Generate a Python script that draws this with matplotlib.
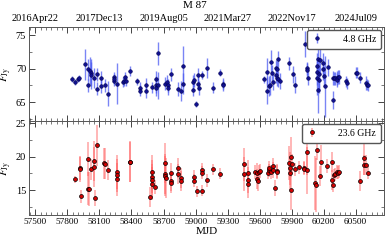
import numpy as np
import matplotlib
matplotlib.use("Agg")
import matplotlib.pyplot as plt
from matplotlib.ticker import MultipleLocator

# 4.8 GHz light curve
mjd_c = [57846, 57874, 57899, 57905, 57962, 57996, 57996, 58015, 58021, 58024,
         58052, 58080, 58080, 58114, 58114, 58149, 58180, 58233, 58233, 58239,
         58264, 58320, 58326, 58342, 58351, 58382, 58448, 58476, 58476, 58538,
         58538, 58595, 58626, 58626, 58626, 58651, 58651, 58710, 58732, 58738,
         58738, 58769, 58832, 58863, 58884, 58884, 58978, 58978, 58981, 59000,
         59022, 59022, 59031, 59065, 59109, 59159, 59231, 59255, 59255,
         59642, 59670, 59670, 59686, 59698, 59705, 59717, 59729, 59754, 59754,
         59764, 59764, 59773, 59776, 59789, 59876, 59910, 59932, 60029, 60044,
         60044, 60051, 60135, 60135, 60141, 60144, 60150, 60153, 60160, 60163,
         60191, 60197, 60207, 60216, 60238, 60288, 60291, 60300, 60309, 60322,
         60325, 60331, 60347, 60409, 60415, 60503, 60515, 60540, 60593, 60609,
         60618]
flux_c = [68.43, 68.03, 68.43, 68.63, 70.62, 67.49, 69.87, 69.67, 69.38, 69.03,
          68.63, 67.04, 69.13, 67.39, 68.63, 67.49, 66.29, 68.73, 68.13, 68.43,
          67.78, 68.03, 68.18, 68.78, 68.13, 69.62, 68.13, 67.14, 66.69, 66.69,
          67.63, 67.19, 68.43, 67.63, 67.14, 72.31, 67.49, 67.78, 68.03, 67.49,
          67.14, 69.13, 66.94, 66.69, 70.32, 67.78, 68.03, 66.89, 68.28, 64.75,
          69.03, 67.78, 67.14, 69.03, 70.12, 67.14, 69.38, 67.78, 67.49,
          68.43, 66.69, 69.52, 67.39, 67.54, 70.92, 69.38, 68.03, 69.03, 70.12,
          68.63, 69.87, 71.42, 68.43, 68.13, 70.77, 69.13, 67.63, 73.70, 70.02,
          69.77, 68.63, 69.52, 68.63, 70.37, 71.37, 66.89, 69.13, 68.38, 71.22,
          69.87, 70.77, 68.88, 67.34, 70.17, 65.30, 68.63, 68.53, 68.53, 68.63,
          68.28, 68.73, 68.78, 68.13, 67.83, 69.38, 69.38, 68.63, 67.83, 67.63,
          67.49]
err_c = [0.4, 0.4, 0.4, 0.4, 2.3, 1.0, 1.5, 2.0, 2.0, 2.0,
         1.5, 1.0, 1.0, 1.0, 1.0, 1.0, 1.8, 0.7, 0.7, 0.7,
         3.0, 0.7, 0.7, 0.7, 0.7, 0.7, 0.5, 0.8, 0.8, 1.0,
         1.0, 0.8, 1.2, 1.2, 1.2, 1.7, 2.0, 1.0, 1.0, 1.0,
         1.0, 1.0, 1.0, 1.5, 3.0, 1.5, 1.0, 1.0, 1.0, 0.5,
         1.0, 1.0, 1.0, 0.6, 1.5, 0.8, 0.5, 0.8, 0.8,
         0.5, 2.0, 2.0, 1.5, 1.5, 1.8, 1.2, 1.2, 1.2, 1.2,
         1.2, 1.2, 1.2, 1.2, 1.2, 1.0, 1.2, 1.2, 1.9, 1.0,
         1.0, 1.0, 2.0, 2.5, 2.0, 2.0, 3.5, 2.5, 2.0, 2.0,
         1.5, 1.5, 1.5, 4.5, 1.2, 1.3, 1.0, 1.0, 1.0, 1.0,
         1.0, 1.0, 1.0, 0.8, 0.8, 0.8, 0.8, 0.8, 1.0, 0.8,
         0.8]

# 23.6 GHz light curve
mjd_k = [57874, 57921, 57921, 57930, 57996, 57996, 58002, 58021, 58049, 58049,
         58055, 58077, 58145, 58152, 58180, 58267, 58267, 58267, 58386, 58386,
         58576, 58594, 58594, 58594, 58594, 58616, 58713, 58713, 58713, 58719,
         58769, 58769, 58769, 58835, 58835, 58863, 58863, 58981, 58981, 59012,
         59062, 59062, 59065, 59109, 59159, 59231, 59458, 59458, 59489, 59489,
         59489, 59555, 59580, 59580, 59586, 59598, 59605, 59683, 59689, 59689,
         59705, 59729, 59729, 59745, 59767, 59767, 59879, 59885, 59885, 59898,
         59898, 59907, 59935, 59966, 60013, 60019, 60041, 60041, 60119, 60125,
         60138, 60169, 60172, 60235, 60275, 60275, 60291, 60300, 60309, 60322,
         60331, 60344, 60540, 60574, 60577, 60593, 60612]
flux_k = [16.62, 18.34, 18.09, 14.07, 19.66, 15.25, 15.15, 18.09, 19.32, 18.43,
          13.83, 21.67, 19.02, 18.97, 17.99, 17.75, 17.21, 16.62, 19.17, 19.27,
          13.97, 17.70, 17.01, 16.47, 15.98, 15.49, 19.02, 17.45, 17.11, 16.77,
          17.60, 16.33, 16.03, 18.34, 17.36, 16.82, 16.38, 17.01, 16.42, 14.81,
          17.99, 17.60, 14.91, 16.47, 18.09, 17.45, 18.83, 17.45, 17.50, 16.52,
          15.88, 17.70, 17.60, 16.62, 16.38, 17.70, 17.85, 17.60, 17.94, 18.34,
          17.70, 18.58, 17.99, 15.39, 17.85, 17.70, 19.02, 18.24, 17.60, 19.95,
          15.10, 18.87, 18.09, 18.39, 18.34, 18.19, 20.74, 17.99, 16.03, 15.79,
          21.03, 17.11, 19.22, 18.58, 19.17, 16.52, 15.74, 17.21, 17.36, 17.70,
          17.60, 17.75, 16.38, 19.76, 18.73, 18.73, 17.60]
err_k = [0.5, 1.8, 1.8, 1.0, 2.5, 2.5, 2.5, 1.5, 3.0, 3.0,
         1.2, 3.0, 2.3, 2.3, 1.5, 2.5, 2.5, 2.5, 3.0, 3.0,
         1.5, 2.5, 2.5, 2.5, 2.5, 1.0, 3.0, 3.0, 3.0, 3.0,
         1.5, 1.5, 1.5, 1.5, 1.5, 1.5, 1.5, 1.0, 1.0, 0.8,
         1.0, 1.0, 0.8, 1.0, 0.8, 0.8, 2.5, 2.5, 2.0, 2.0,
         2.0, 1.0, 1.5, 1.5, 1.5, 1.0, 1.0, 1.0, 1.0, 1.0,
         1.0, 1.2, 1.2, 1.2, 1.0, 1.0, 2.5, 2.5, 2.5, 3.0,
         3.0, 1.5, 1.0, 1.0, 1.0, 1.0, 3.5, 3.5, 4.0, 4.0,
         1.5, 1.5, 2.5, 1.0, 1.5, 1.5, 1.0, 1.0, 1.0, 1.0,
         1.0, 1.0, 1.5, 2.5, 1.5, 1.5, 1.0]

date_ticks = [57500, 58100, 58700, 59300, 59900, 60500]
date_labels = ["2016Apr22", "2017Dec13", "2019Aug05", "2021Mar27",
               "2022Nov17", "2024Jul09"]

plt.rcParams["font.family"] = ["Liberation Serif", "DejaVu Serif"]
plt.rcParams["mathtext.fontset"] = "stix"

fig = plt.figure(figsize=(3.89, 2.43), dpi=100)
ax1 = fig.add_axes([0.0746, 0.502, 0.9124, 0.387])
ax2 = fig.add_axes([0.0746, 0.115, 0.9124, 0.387], sharex=ax1)

ax1.errorbar(mjd_c, flux_c, yerr=err_c, fmt="o", ms=2.6, mfc="#101090",
             mec="#000050", mew=0.4, ecolor=(0.30, 0.36, 0.95, 0.75),
             elinewidth=1.0, label="4.8 GHz")
ax2.errorbar(mjd_k, flux_k, yerr=err_k, fmt="o", ms=2.8, mfc="#d40000",
             mec="black", mew=0.5, ecolor=(1.0, 0.35, 0.35, 0.55),
             elinewidth=1.1, label="23.6 GHz")

ax1.set_xlim(57440, 60765)
ax1.set_ylim(62.2, 76.2)
ax2.set_ylim(11.3, 25.3)

for ax in (ax1, ax2):
    ax.yaxis.set_major_locator(MultipleLocator(5))
    ax.yaxis.set_minor_locator(MultipleLocator(2.5))
    ax.xaxis.set_major_locator(MultipleLocator(300, offset=200))
    ax.xaxis.set_minor_locator(MultipleLocator(50))
    ax.tick_params(which="both", direction="in", top=True, right=True,
                   labelsize=7.5, color="#444444", pad=2)
    ax.tick_params(which="major", length=4, width=0.7)
    ax.tick_params(which="minor", length=2, width=0.5)
    ax.set_ylabel(r"$F_{\rm Jy}$", fontsize=8, labelpad=1)
    for s in ax.spines.values():
        s.set_color("#555555")
        s.set_linewidth(0.7)
    ax.legend(loc="upper right", fontsize=7, handlelength=1.0,
              handletextpad=2.2, borderpad=0.5, borderaxespad=0.3,
              framealpha=1, edgecolor="#555555", fancybox=True)

ax1.tick_params(labelbottom=False)
ax2.tick_params(axis="x", labelsize=6.7)
ax2.set_xlabel("MJD", fontsize=8, labelpad=1)

sec = ax1.secondary_xaxis("top")
sec.set_xticks(date_ticks)
sec.set_xticklabels(date_labels)
sec.tick_params(direction="in", length=0, labelsize=7.5, pad=3)
sec.spines["top"].set_visible(False)

fig.text(0.5, 0.995, "M 87", ha="center", va="top", fontsize=8)

fig.savefig("out.png", dpi=100)
